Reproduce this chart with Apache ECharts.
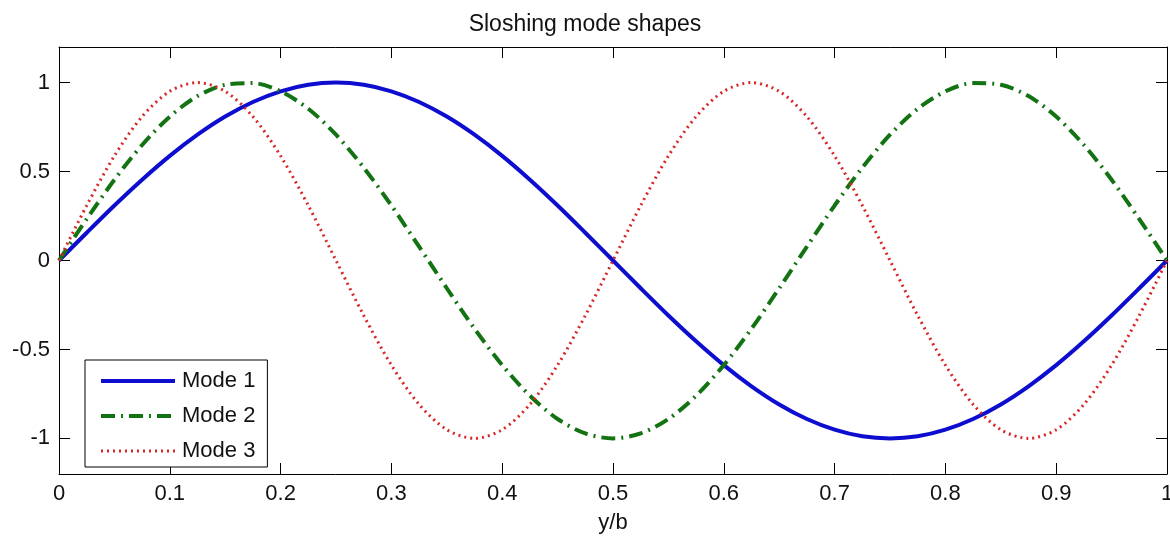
<!DOCTYPE html>
<html lang="en">
<head>
    <meta charset="UTF-8" />
    <title>Sloshing mode shapes</title>
</head>
<body style="margin:0">
<div id="main" style="width:1170px;height:538px"></div>
<script src="https://cdn.jsdelivr.net/npm/echarts@6/dist/echarts.min.js"></script>
<script>
  // y/b sample positions (step 0.025)
  var yb = [0, 0.025, 0.05, 0.075, 0.1, 0.125, 0.15, 0.175, 0.2, 0.225,
            0.25, 0.275, 0.3, 0.325, 0.35, 0.375, 0.4, 0.425, 0.45, 0.475,
            0.5, 0.525, 0.55, 0.575, 0.6, 0.625, 0.65, 0.675, 0.7, 0.725,
            0.75, 0.775, 0.8, 0.825, 0.85, 0.875, 0.9, 0.925, 0.95, 0.975, 1];
  var mode1 = [0, 0.156, 0.309, 0.454, 0.588, 0.707, 0.809, 0.891, 0.951, 0.988,
               1, 0.988, 0.951, 0.891, 0.809, 0.707, 0.588, 0.454, 0.309, 0.156,
               0, -0.156, -0.309, -0.454, -0.588, -0.707, -0.809, -0.891, -0.951, -0.988,
               -1, -0.988, -0.951, -0.891, -0.809, -0.707, -0.588, -0.454, -0.309, -0.156, 0];
  var mode2 = [0, 0.233, 0.454, 0.649, 0.809, 0.924, 0.988, 0.997, 0.951, 0.853,
               0.707, 0.522, 0.309, 0.078, -0.156, -0.383, -0.588, -0.760, -0.891, -0.972,
               -1, -0.972, -0.891, -0.760, -0.588, -0.383, -0.156, 0.078, 0.309, 0.522,
               0.707, 0.853, 0.951, 0.997, 0.988, 0.924, 0.809, 0.649, 0.454, 0.233, 0];
  var mode3 = [0, 0.309, 0.588, 0.809, 0.951, 1, 0.951, 0.809, 0.588, 0.309,
               0, -0.309, -0.588, -0.809, -0.951, -1, -0.951, -0.809, -0.588, -0.309,
               0, 0.309, 0.588, 0.809, 0.951, 1, 0.951, 0.809, 0.588, 0.309,
               0, -0.309, -0.588, -0.809, -0.951, -1, -0.951, -0.809, -0.588, -0.309, 0];
  var yTicks = [-1, -0.5, 0, 0.5, 1];

  function pairs(vals) {
    return yb.map(function (x, i) { return [x, vals[i]]; });
  }

  var font = "Liberation Sans";
  var myChart = echarts.init(document.getElementById("main"));

  var boxLine = { show: true, onZero: false, lineStyle: { color: "#000", width: 1 } };
  var tick = { show: true, inside: true, length: 11, lineStyle: { color: "#000", width: 1 } };

  var option = {
    backgroundColor: "#fff",
    animation: false,
    title: {
      text: "Sloshing mode shapes",
      left: "center",
      top: 8,
      textStyle: { fontFamily: font, fontSize: 23, fontWeight: "normal", color: "#111" }
    },
    grid: { left: 59, right: 3, top: 47, bottom: 64, containLabel: false, outerBoundsMode: "none" },
    xAxis: [
      {
        type: "value", min: 0, max: 1, interval: 0.1, position: "bottom",
        name: "y/b", nameLocation: "middle", nameGap: 38,
        nameTextStyle: { fontFamily: font, fontSize: 22, color: "#111" },
        axisLine: boxLine, axisTick: tick, splitLine: { show: false },
        axisLabel: { fontFamily: font, fontSize: 22, color: "#111", margin: 9 }
      },
      {
        type: "value", min: 0, max: 1, interval: 0.1, position: "top",
        axisLine: boxLine, axisTick: tick, splitLine: { show: false },
        axisLabel: { show: false }
      }
    ],
    yAxis: [
      {
        type: "value", min: -1.2, max: 1.2, position: "left",
        axisLine: boxLine, splitLine: { show: false },
        axisTick: Object.assign({ customValues: yTicks }, tick),
        axisLabel: { customValues: yTicks, fontFamily: font, fontSize: 22, color: "#111", margin: 9 }
      },
      {
        type: "value", min: -1.2, max: 1.2, position: "right",
        axisLine: boxLine, splitLine: { show: false },
        axisTick: Object.assign({ customValues: yTicks }, tick),
        axisLabel: { show: false }
      }
    ],
    legend: {
      orient: "vertical",
      left: 85, top: 360,
      backgroundColor: "#fff",
      borderColor: "#000", borderWidth: 1,
      padding: [10, 12, 5, 14],
      itemWidth: 74, itemHeight: 14, itemGap: 13,
      itemStyle: { opacity: 0 },
      lineStyle: { width: "inherit" },
      textStyle: { fontFamily: font, fontSize: 22, color: "#111", padding: [0, 0, 0, 2] },
      data: ["Mode 1", "Mode 2", "Mode 3"]
    },
    series: [
      {
        name: "Mode 1", type: "line", smooth: 0.3, showSymbol: false, symbol: "none",
        lineStyle: { color: "#0d0dd0", width: 4 }, itemStyle: { color: "#0d0dd0" },
        data: pairs(mode1)
      },
      {
        name: "Mode 2", type: "line", smooth: 0.3, showSymbol: false, symbol: "none",
        lineStyle: { color: "#137313", width: 4, type: [14, 6, 2, 6] }, itemStyle: { color: "#137313" },
        data: pairs(mode2)
      },
      {
        name: "Mode 3", type: "line", smooth: 0.3, showSymbol: false, symbol: "none",
        lineStyle: { color: "#d82626", width: 3, type: [2, 4] }, itemStyle: { color: "#d82626" },
        data: pairs(mode3)
      }
    ]
  };
  myChart.setOption(option);
</script>
</body>
</html>
